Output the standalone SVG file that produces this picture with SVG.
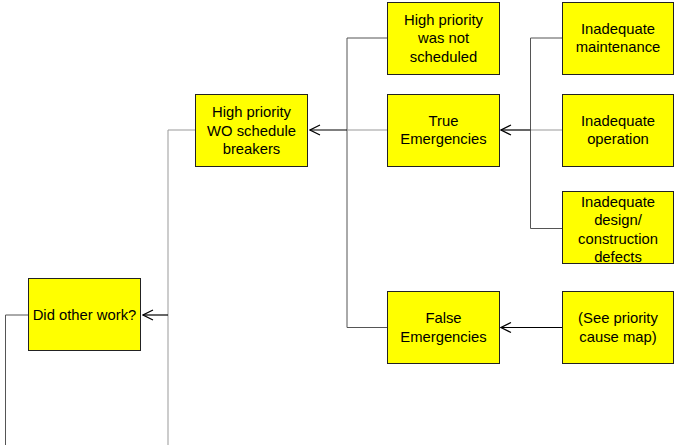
<svg xmlns="http://www.w3.org/2000/svg" width="675" height="445" viewBox="0 0 675 445">
<style>
.box{fill:#ffff00;stroke:#222;stroke-width:1}
.t{font-family:"Liberation Sans",Arial,sans-serif;font-size:14.8px;fill:#000;text-anchor:middle}
.ln{fill:none;stroke:#555;stroke-width:1}
.lg{fill:none;stroke:#999;stroke-width:1}
.ar{fill:none;stroke:#000;stroke-width:1.2}
</style>
<defs>
<marker id="op" markerWidth="12" markerHeight="12" refX="11" refY="6" orient="auto" markerUnits="userSpaceOnUse">
<path d="M1,1 L11,6 L1,11" fill="none" stroke="#000" stroke-width="1.2"/>
</marker>
</defs>
<rect width="675" height="445" fill="#fff"/>
<g id="connectors">
<path class="ln" d="M28,315 H5.5 V445"/>
<path class="lg" d="M168,445 V130 H195"/>
<path class="ar" d="M168,315 H143" marker-end="url(#op)"/>
<path class="ln" d="M387,38 H347 V327.5 H387"/>
<path class="lg" d="M387,130 H347"/>
<path class="ar" d="M347,130 H310" marker-end="url(#op)"/>
<path class="ln" d="M562,38 H530.5 V228.5 H562"/>
<path class="lg" d="M562,130 H530.5"/>
<path class="ar" d="M530.5,130 H501" marker-end="url(#op)"/>
<path class="ar" d="M562,327.5 H501" marker-end="url(#op)"/>
</g>
<g id="n-did-other-work">
<rect class="box" x="28.5" y="278.5" width="112" height="72"/>
<text class="t" x="84.5" y="320">Did other work?</text>
</g>
<g id="n-schedule-breakers">
<rect class="box" x="195.5" y="94.5" width="112" height="72"/>
<text class="t" x="251.5" y="117">High priority</text>
<text class="t" x="251.5" y="135.5">WO schedule</text>
<text class="t" x="251.5" y="154">breakers</text>
</g>
<g id="n-not-scheduled">
<rect class="box" x="387.5" y="2.5" width="112" height="72"/>
<text class="t" x="443.5" y="24.5">High priority</text>
<text class="t" x="443.5" y="43">was not</text>
<text class="t" x="443.5" y="61.5">scheduled</text>
</g>
<g id="n-true-emergencies">
<rect class="box" x="387.5" y="94.5" width="112" height="72"/>
<text class="t" x="443.5" y="125.5">True</text>
<text class="t" x="443.5" y="144">Emergencies</text>
</g>
<g id="n-false-emergencies">
<rect class="box" x="387.5" y="291.5" width="112" height="72"/>
<text class="t" x="443.5" y="323">False</text>
<text class="t" x="443.5" y="341.5">Emergencies</text>
</g>
<g id="n-maintenance">
<rect class="box" x="562.5" y="2.5" width="111" height="72"/>
<text class="t" x="618" y="33.5">Inadequate</text>
<text class="t" x="618" y="52">maintenance</text>
</g>
<g id="n-operation">
<rect class="box" x="562.5" y="94.5" width="111" height="72"/>
<text class="t" x="618" y="125.5">Inadequate</text>
<text class="t" x="618" y="144">operation</text>
</g>
<g id="n-design">
<rect class="box" x="562.5" y="191.5" width="111" height="72"/>
<text class="t" x="618" y="206.5">Inadequate</text>
<text class="t" x="618" y="225">design/</text>
<text class="t" x="618" y="243.5">construction</text>
<text class="t" x="618" y="262">defects</text>
</g>
<g id="n-see-priority">
<rect class="box" x="562.5" y="291.5" width="111" height="72"/>
<text class="t" x="618" y="323">(See priority</text>
<text class="t" x="618" y="341.5">cause map)</text>
</g>
</svg>
